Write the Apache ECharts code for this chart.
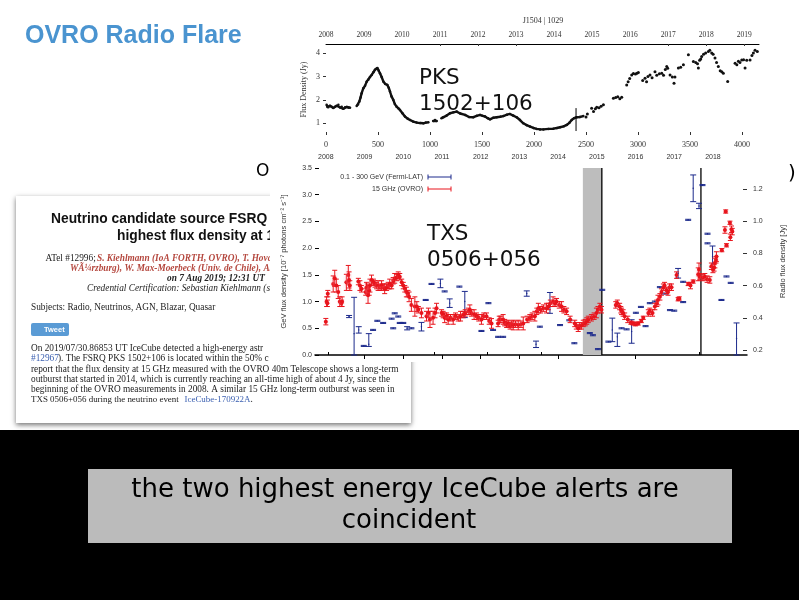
<!DOCTYPE html>
<html><head><meta charset="utf-8">
<style>html,body{margin:0;padding:0;background:#fff}#c{width:799px;height:600px}</style>
<script src="https://cdn.jsdelivr.net/npm/echarts@6/dist/echarts.min.js"></script>
</head><body><div id="c"></div>
<script>
// PKS 1502+106 : [day, flux Jy]; null breaks the run
const pksRuns = [[6,1.79],[14,1.7],[22,1.69],[38,1.75],[54,1.71],[70,1.65],[87,1.71],[103,1.75],[119,1.79],[135,1.68],[151,1.71],[167,1.62],[183,1.69],[200,1.7],[215,1.66],[231,1.67],null,
[295,1.74],[308,1.8],[320,1.93],[332,2.1],[343,2.29],[359,2.5],[375,2.6],[391,2.78],[407,2.86],[423,2.98],[439,3.07],[455,3.18],[471,3.29],[485,3.33],[494,3.36],[507,3.25],[519,3.14],[535,2.98],[551,2.79],[570,2.68],[590,2.64],[603,2.52],[615,2.36],[630,2.15],[647,2.0],[662,1.82],[679,1.71],[695,1.64],[711,1.57],[735,1.43],[759,1.29],[784,1.2],[808,1.14],[840,1.07],[872,1.03],[905,1.01],[936,1.0],[960,1.03],[984,1.04],null,
[1030,1.1],[1048,1.14],[1065,1.1],null,[1110,1.22],[1128,1.26],[1160,1.33],[1192,1.43],[1225,1.47],[1256,1.5],[1290,1.42],[1337,1.36],[1375,1.27],[1417,1.26],[1450,1.32],[1481,1.36],[1505,1.32],[1529,1.29],[1555,1.22],[1577,1.17],[1610,1.24],[1641,1.26],[1675,1.28],[1705,1.31],[1740,1.37],[1769,1.4],[1800,1.33],[1833,1.26],[1865,1.14],[1897,1.0],[1930,.92],[1962,.86],[1995,.8],[2026,.76],[2058,.74],[2090,.74],[2140,.76],[2186,.77],[2220,.8],[2250,.83],[2285,.87],[2314,.93],[2340,1.02],[2362,1.14],[2385,1.22],[2410,1.26],[2440,1.27],[2474,1.31]];
const pksScatter = [[2513,1.4],[2500,1.27],[2554,1.64],[2572,1.5],[2590,1.62],[2603,1.69],[2625,1.66],[2645,1.73],[2667,1.79],[2763,2.07],[2785,2.1],[2805,2.13],[2825,2.05],[2843,2.11],[2891,2.64],[2905,2.78],[2920,2.92],[2939,3.07],[2955,3.13],[2975,3.11],[2990,3.14],[3003,3.17],[3045,2.83],[3067,2.93],[3082,2.78],[3095,3.0],[3115,3.07],[3135,2.95],[3163,3.2],[3180,3.05],[3205,3.12],[3228,3.14],[3245,3.05],[3262,3.3],[3276,3.43],[3285,3.35],[3308,3.07],[3330,2.98],[3346,2.71],[3355,2.98],[3388,3.36],[3410,3.4],[3436,3.5],[3484,3.93],[3532,3.64],[3555,3.6],[3572,3.55],[3580,3.36],[3592,3.7],[3603,3.75],[3612,3.86],[3630,3.95],[3650,4.0],[3676,4.07],[3690,4.12],[3708,4.0],[3722,3.95],[3740,3.79],[3755,3.6],[3772,3.43],[3790,3.25],[3805,3.2],[3820,3.14],[3862,2.79],[3933,3.57],[3950,3.5],[3965,3.65],[3980,3.6],[3997,3.71],[4015,3.72],[4029,3.36],[4045,3.7],[4077,3.71],[4095,3.9],[4109,4.0],[4125,4.12],[4147,4.07]];
const pksMark = [[2404,.67,1.65]];
// TXS 0506+056, 15 GHz : [year, Jy, error]
const ovro = [[2008,.376,.02],[2008.02,.5,.03],[2008.04,.49,.02],[2008.05,.55,.02],[2008.19,.61,.05],[2008.23,.645,.05],[2008.27,.6,.04],[2008.32,.56,.04],[2008.36,.5,.03],[2008.4,.49,.02],[2008.42,.5,.03],[2008.53,.62,.05],[2008.58,.665,.06],[2008.6,.635,.05],[2008.62,.6,.03],[2008.84,.625,.02],[2008.88,.6,.03],[2008.92,.58,.02],[2009.03,.56,.02],[2009.05,.59,.03],[2009.07,.58,.03],[2009.09,.54,.05],[2009.12,.57,.03],[2009.14,.6,.04],[2009.18,.635,.03],[2009.23,.62,.02],[2009.27,.61,.02],[2009.31,.6,.02],[2009.35,.6,.03],[2009.4,.59,.02],[2009.44,.6,.03],[2009.48,.59,.02],[2009.52,.58,.03],[2009.57,.59,.02],[2009.61,.6,.02],[2009.65,.61,.03],[2009.7,.6,.02],[2009.74,.63,.02],[2009.78,.645,.03],[2009.83,.65,.02],[2009.87,.665,.02],[2009.91,.655,.02],[2009.96,.62,.02],[2010,.6,.02],[2010.04,.58,.02],[2010.08,.56,.03],[2010.12,.55,.02],[2010.15,.53,.03],[2010.21,.48,.04],[2010.3,.47,.06],[2010.35,.47,.03],[2010.39,.45,.02],[2010.47,.43,.03],[2010.6,.41,.03],[2010.65,.43,.03],[2010.69,.39,.05],[2010.77,.4,.04],[2010.82,.43,.03],[2010.86,.46,.03],[2010.99,.43,.02],[2011.03,.42,.02],[2011.07,.4,.03],[2011.12,.41,.02],[2011.16,.39,.03],[2011.22,.4,.02],[2011.29,.39,.03],[2011.35,.41,.02],[2011.42,.4,.02],[2011.48,.41,.03],[2011.55,.42,.02],[2011.6,.43,.02],[2011.68,.44,.02],[2011.72,.45,.03],[2011.76,.43,.02],[2011.83,.42,.03],[2011.89,.41,.02],[2011.95,.4,.02],[2012.02,.39,.03],[2012.08,.41,.02],[2012.15,.41,.02],[2012.22,.38,.02],[2012.28,.365,.03],[2012.45,.365,.02],[2012.48,.39,.02],[2012.52,.39,.02],[2012.58,.39,.03],[2012.62,.37,.02],[2012.67,.36,.02],[2012.71,.365,.02],[2012.76,.35,.02],[2012.8,.36,.02],[2012.84,.355,.03],[2012.9,.36,.02],[2012.97,.355,.03],[2013.04,.36,.02],[2013.1,.365,.04],[2013.2,.39,.02],[2013.27,.4,.02],[2013.33,.41,.02],[2013.4,.41,.03],[2013.45,.44,.02],[2013.49,.46,.03],[2013.55,.45,.02],[2013.62,.46,.02],[2013.7,.46,.03],[2013.75,.47,.02],[2013.8,.49,.02],[2013.87,.5,.03],[2013.92,.49,.02],[2013.96,.5,.02],[2014.03,.48,.02],[2014.09,.47,.03],[2014.15,.45,.02],[2014.22,.44,.02],[2014.31,.39,.02],[2014.43,.365,.02],[2014.47,.35,.02],[2014.52,.335,.02],[2014.56,.35,.02],[2014.6,.35,.02],[2014.65,.365,.02],[2014.7,.37,.02],[2014.74,.38,.02],[2014.78,.39,.02],[2014.86,.4,.02],[2014.93,.41,.02],[2014.99,.43,.03],[2015.03,.45,.02],[2015.08,.47,.02],[2015.12,.45,.02],[2015.49,.48,.02],[2015.53,.49,.02],[2015.59,.47,.02],[2015.62,.45,.02],[2015.64,.44,.02],[2015.68,.43,.02],[2015.72,.41,.02],[2015.8,.39,.02],[2015.88,.37,.01],[2015.94,.365,.01],[2016,.36,.01],[2016.07,.365,.01],[2016.15,.38,.01],[2016.2,.4,.01],[2016.33,.43,.02],[2016.37,.44,.02],[2016.44,.43,.02],[2016.5,.47,.02],[2016.55,.49,.02],[2016.58,.51,.03],[2016.63,.53,.02],[2016.67,.56,.02],[2016.72,.59,.02],[2016.75,.6,.02],[2016.8,.57,.02],[2016.84,.56,.02],[2016.88,.59,.02],[2016.93,.59,.02],[2017.06,.665,.02],[2017.1,.515,.01],[2017.13,.52,.01],[2017.36,.61,.01],[2017.42,.6,.02],[2017.49,.625,.01],[2017.62,.67,.04],[2017.64,.7,.04],[2017.66,.655,.02],[2017.74,.65,.02],[2017.79,.655,.02],[2017.85,.64,.02],[2017.92,.635,.02],[2017.96,.72,.02],[2018,.7,.02],[2018.03,.71,.02],[2018.05,.74,.03],[2018.08,.76,.02],[2018.09,.78,.03],[2018.23,.82,.01],[2018.35,.85,.01],[2018.33,1.06,.01],[2018.31,.945,.02],[2018.44,.99,.01],[2018.5,.935,.02],[2018.45,.9,.02],[2018.48,.95,.02]];
// TXS 0506+056, Fermi-LAT : [year, flux, low, high]
const fermi = [[2008.6,.72,.7,.74],[2008.73,.4,0,1.08],[2008.85,.47,.41,.53],[2008.98,.17,.16,.18],[2009.11,.2,.16,.4],[2009.22,.47,.46,.48],[2009.33,.64,.63,.65],[2009.48,.6,.59,.61],[2009.7,.68,.67,.69],[2009.78,.78,.77,.79],[2009.87,.72,.71,.73],[2009.74,.5,.49,.51],[2009.91,.6,.59,.61],[2010,.6,.59,.61],[2010.1,.5,.47,.53],[2010.21,.5,.49,.51],[2010.47,.53,.45,.61],[2010.58,1.03,1.02,1.04],[2010.73,1.33,1.32,1.34],[2010.96,1.34,1.26,1.42],[2011.07,1.19,1.18,1.2],[2011.2,.97,.89,1.05],[2011.45,1.28,1.27,1.29],[2011.59,1,.7,1.19],[2012.2,.97,.96,.98],[2012.02,.45,.44,.46],[2012.32,.47,.46,.48],[2012.58,.34,.33,.35],[2012.45,.34,.33,.35],[2013.19,1.15,1.1,1.2],[2013.43,.2,.14,.26],[2013.79,.97,.78,1.17],[2013.53,.53,.52,.54],[2014.05,.56,.55,.57],[2014.29,.65,.64,.66],[2014.42,.22,.21,.23],[2014.82,.41,.4,.42],[2014.9,.37,.36,.38],[2015.03,.11,.1,.12],[2015.14,1.22,1.21,1.23],[2015.3,.25,.24,.26],[2015.4,.47,.25,.69],[2015.53,.34,.16,.41],[2015.64,.5,.49,.51],[2015.77,.48,.47,.49],[2015.9,.44,.22,.66],[2016.01,.79,.78,.8],[2016.14,.9,.89,.91],[2016.26,.54,.53,.55],[2016.37,.97,.96,.98],[2016.5,1,.99,1.01],[2016.63,1.27,1.26,1.28],[2016.76,1.15,1.14,1.16],[2016.89,.84,.83,.85],[2017,.83,.82,.84],[2017.1,1.53,1.44,1.62],[2017.23,1.37,1.36,1.38],[2017.23,.99,.98,1],[2017.36,2.53,2.52,2.54],[2017.49,3.12,2.87,3.37],[2017.64,2.79,2.74,2.84],[2017.73,3.18,3.17,3.19],[2017.86,2.27,2.26,2.28],[2017.86,2.09,2.08,2.1],[2017.99,1.84,1.64,2.04],[2018.22,1.03,1.02,1.04],[2018.35,1.47,1.46,1.48],[2018.46,1.35,1.34,1.36],[2018.61,.31,0,.6]];
const flareBand = [2014.64,2015.13];
const eventLines = [2015.13,2017.69];
const dayTicks = [0,500,1000,1500,2000,2500,3000,3500,4000];
const topYearsA = [2008,2009,2010,2011,2012,2013,2014,2015,2016,2017,2018,2019];
const topYearsATicks = [2011,2012,2013,2017,2018,2019];
const topYearsB = [2008,2009,2010,2011,2012,2013,2014,2015,2016,2017,2018];
const topYearsBTicks = [2009,2010,2011,2012,2013,2014,2016];
const bottomTicksB = [2008.05,2010.79,2012.16,2013.56,2017.64];
const pksFlux = [1,2,3,4];
const radioTicks = [.2,.4,.6,.8,1,1.2];

const SERIF='"Liberation Serif"', SANS='"Liberation Sans"', DV='"DejaVu Sans"';
const RED='#e8141c', BLUE='#1c2a8c';
const T=(text,x,y,font,fill,align,z)=>({type:'text',z:z===undefined?-1:z,style:{text,x,y,font,fill:fill||'#222',textAlign:align||'left',textVerticalAlign:'middle'}});
const L=(x1,y1,x2,y2,stroke,z)=>({type:'line',z:z||9,shape:{x1,y1,x2,y2},style:{stroke,lineWidth:1}});
const body='9.3px '+SERIF, ital='italic 9.3px '+SERIF, redI='italic bold 9.3px '+SERIF;
const graphic=[
 {type:'rect',z:-3,shape:{x:16,y:196,width:395,height:227},style:{fill:'#fff',shadowBlur:5,shadowColor:'rgba(0,0,0,.55)',shadowOffsetY:2}},
 T('Neutrino candidate source FSRQ',51,219,'bold 13.8px '+SANS,'#111'),
 T('highest flux density at 1',117,236,'bold 13.8px '+SANS,'#111'),
 T('ATel #12996;',45.5,259,body),
 T('S. Kiehlmann (IoA FORTH, OVRO), T. Hova',97,259,redI,'#b5483f'),
 T('WÃ¼rzburg), W. Max-Moerbeck (Univ. de Chile), A.',70,269,redI,'#b5483f'),
 T('on 7 Aug 2019; 12:31 UT',167,279,'italic bold 9.3px '+SERIF,'#222'),
 T('Credential Certification: Sebastian Kiehlmann (sk',87,289,ital),
 T('Subjects: Radio, Neutrinos, AGN, Blazar, Quasar',31,308,body),
 {type:'rect',z:-1,shape:{x:31,y:323,width:38,height:13,r:2},style:{fill:'#5a9bd5'}},
 T('Tweet',44,329.5,'bold 7.5px '+SANS,'#fff'),
 T('On 2019/07/30.86853 UT IceCube detected a high-energy astr',31,349,body),
 T('#12967',31,359,body,'#3a5fb0'),
 T('). The FSRQ PKS 1502+106 is located within the 50% c',58,359,body),
 // covers the card where the chart image overlaps it
 {type:'rect',z:-0.5,shape:{x:270,y:160,width:529,height:202},style:{fill:'#fff'}},
 T('report that the flux density at 15 GHz measured with the OVRO 40m Telescope shows a long-term',31,370,body),
 T('outburst that started in 2014, which is currently reaching an all-time high of about 4 Jy, since the',31,380,body),
 T('beginning of the OVRO measurements in 2008. A similar 15 GHz long-term outburst was seen in',31,390,body),
 T('TXS 0506+056 during the neutrino event',31,400,'8.95px '+SERIF),
 T('IceCube-170922A',184.5,400,'8.95px '+SERIF,'#3a5fb0'),
 T('.',250.5,400,body),
 T('OVRO Radio Flare',25,36,'bold 25px '+SANS,'#4a94d0',null,9),
 T('O',256,172,'17px '+DV,'#000',null,9),
 T(')',788,174,'20px '+DV,'#000',null,9),
 T('J1504 | 1029',543,21,'8px '+SERIF,'#333','center',9),
 T('0.1 - 300 GeV (Fermi-LAT)',423,177,'7px '+SANS,'#333','right',9),
 T('15 GHz (OVRO)',423,189,'7px '+SANS,'#333','right',9),
 L(428,177,451,177,BLUE),L(428,174.5,428,179.5,BLUE),L(451,174.5,451,179.5,BLUE),
 L(428,189,451,189,RED),L(428,186.5,428,191.5,RED),L(451,186.5,451,191.5,RED),
 T('PKS',419,78,'21.5px '+DV,'#111',null,30),
 T('1502+106',419,104,'21.5px '+DV,'#111',null,30),
 T('TXS',427,234,'21.5px '+DV,'#111',null,30),
 T('0506+056',427,260,'21.5px '+DV,'#111',null,30),
 {type:'rect',z:40,shape:{x:0,y:430,width:799,height:170},style:{fill:'#000'}},
 {type:'rect',z:41,shape:{x:88,y:469,width:644,height:74},style:{fill:'#bbbbbb'}},
 T('the two highest energy IceCube alerts are',405,490,'26px '+DV,'#000','center',42),
 T('coincident',409,521,'26px '+DV,'#000','center',42)
];
const lab=(font,size,extra)=>Object.assign({fontFamily:font,fontSize:size,color:'#333'},extra||{});
const fmt=v=>String(v);
const errBar=(color,cap,r,loHi,halo)=>(p,api)=>{
  const x=api.value(0),y=api.value(1);
  const lo=loHi?api.value(2):y-api.value(2), hi=loHi?api.value(3):y+api.value(2);
  const a=api.coord([x,lo]),b=api.coord([x,hi]),c=api.coord([x,y]);
  const s={stroke:color,lineWidth:1};
  const ch=[];
  if(halo)ch.push({type:'line',shape:{x1:a[0],y1:a[1]-2,x2:b[0],y2:b[1]+2},style:{stroke:halo,lineWidth:6}});
  ch.push(
   {type:'line',shape:{x1:a[0],y1:a[1],x2:b[0],y2:b[1]},style:s},
   {type:'line',shape:{x1:a[0]-cap,y1:a[1],x2:a[0]+cap,y2:a[1]},style:s},
   {type:'line',shape:{x1:b[0]-cap,y1:b[1],x2:b[0]+cap,y2:b[1]},style:s});
  if(r)ch.push({type:'circle',shape:{cx:c[0],cy:c[1],r},style:{fill:color}});
  return {type:'group',children:ch};
};
const chart=echarts.init(document.getElementById('c'),null,{renderer:'canvas'});
chart.setOption({
 animation:false,backgroundColor:'#fff',graphic,
 grid:[{left:326,top:44,width:433,height:91},{left:315,top:168,width:432,height:187}],
 xAxis:[
  {gridIndex:0,type:'value',min:0,max:4163,splitLine:{show:false},axisLine:{show:false},axisTick:{inside:true,length:3,customValues:dayTicks,lineStyle:{color:'#333'}},axisLabel:lab(SERIF,8,{margin:6,customValues:dayTicks,formatter:fmt})},
  {gridIndex:0,type:'value',position:'top',min:2008,max:2019.39,splitLine:{show:false},axisLine:{onZero:false,lineStyle:{color:'#000',width:1}},axisTick:{inside:true,length:2,customValues:topYearsATicks,lineStyle:{color:'#333'}},axisLabel:lab(SERIF,7.5,{margin:5,customValues:topYearsA,formatter:fmt})},
  {gridIndex:1,type:'value',min:2007.72,max:2018.88,splitLine:{show:false},axisLine:{onZero:false,lineStyle:{color:'#000',width:1.5}},axisTick:{inside:true,length:3,customValues:bottomTicksB,lineStyle:{color:'#000'}},axisLabel:{show:false}},
  {gridIndex:1,type:'value',position:'top',min:2007.72,max:2018.88,splitLine:{show:false},axisLine:{show:false},axisTick:{inside:true,length:4,customValues:topYearsBTicks,lineStyle:{color:'#000'}},axisLabel:lab(SANS,7,{margin:7,customValues:topYearsB,formatter:fmt})}
 ],
 yAxis:[
  {gridIndex:0,type:'value',min:.5,max:4.39,name:'Flux Density (Jy)',nameLocation:'middle',nameGap:18,nameMoveOverlap:false,nameTextStyle:lab(SERIF,8),splitLine:{show:false},axisLine:{show:false},axisTick:{show:true,length:3,customValues:pksFlux,lineStyle:{color:'#333'}},axisLabel:lab(SERIF,8,{margin:6,customValues:pksFlux})},
  {gridIndex:1,type:'value',min:0,max:3.5,interval:.5,name:'GeV flux density [10⁻⁷ photons cm⁻² s⁻¹]',nameLocation:'middle',nameGap:27,nameTextStyle:lab(SANS,7.6),splitLine:{show:false},axisLine:{show:false},axisTick:{show:true,inside:true,length:4,lineStyle:{color:'#000'}},axisLabel:lab(SANS,7,{margin:3,formatter:v=>v.toFixed(1)})},
  {gridIndex:1,type:'value',position:'right',min:.169,max:1.33,name:'Radio flux density [Jy]',nameLocation:'middle',nameRotate:90,nameGap:32,nameTextStyle:lab(SANS,7.5),splitLine:{show:false},axisLine:{show:false},axisTick:{show:true,inside:true,length:4,customValues:radioTicks,lineStyle:{color:'#333'}},axisLabel:lab(SANS,7,{margin:6,customValues:radioTicks,formatter:v=>v.toFixed(1)})}
 ],
 series:[
  {type:'line',xAxisIndex:0,yAxisIndex:0,z:5,data:pksRuns.map(d=>d||[null,null]),connectNulls:false,symbol:'circle',symbolSize:2.5,showSymbol:true,showAllSymbol:true,itemStyle:{color:'#111'},lineStyle:{color:'#111',width:2.4}},
  {type:'scatter',xAxisIndex:0,yAxisIndex:0,z:5,data:pksScatter,symbolSize:3,itemStyle:{color:'#111',opacity:1}},
  {type:'custom',xAxisIndex:0,yAxisIndex:0,z:6,data:pksMark,renderItem:(p,api)=>{const a=api.coord([api.value(0),api.value(1)]),b=api.coord([api.value(0),api.value(2)]);return {type:'line',shape:{x1:a[0],y1:a[1],x2:b[0],y2:b[1]},style:{stroke:'#000',lineWidth:1}};}},
  {type:'custom',xAxisIndex:2,yAxisIndex:1,z:3,data:[flareBand],clip:false,renderItem:(p,api)=>{const a=api.coord([api.value(0),3.5]),b=api.coord([api.value(1),0]);return {type:'rect',shape:{x:a[0],y:a[1],width:b[0]-a[0],height:b[1]-a[1]},style:{fill:'#bdbdbd'}};}},
  {type:'custom',xAxisIndex:2,yAxisIndex:1,z:4,data:eventLines.map(v=>[v]),renderItem:(p,api)=>{const a=api.coord([api.value(0),3.5]),b=api.coord([api.value(0),0]);return {type:'line',shape:{x1:a[0],y1:a[1],x2:b[0],y2:b[1]},style:{stroke:'#000',lineWidth:1.3}};}},
  {type:'custom',name:'0.1 - 300 GeV (Fermi-LAT)',xAxisIndex:2,yAxisIndex:1,z:5,data:fermi,renderItem:errBar(BLUE,3,.7,true)},
  {type:'custom',name:'15 GHz (OVRO)',xAxisIndex:2,yAxisIndex:2,z:6,data:ovro,renderItem:errBar(RED,2.5,2,false,'rgba(255,170,190,.12)')}
 ]
});
</script></body></html>
